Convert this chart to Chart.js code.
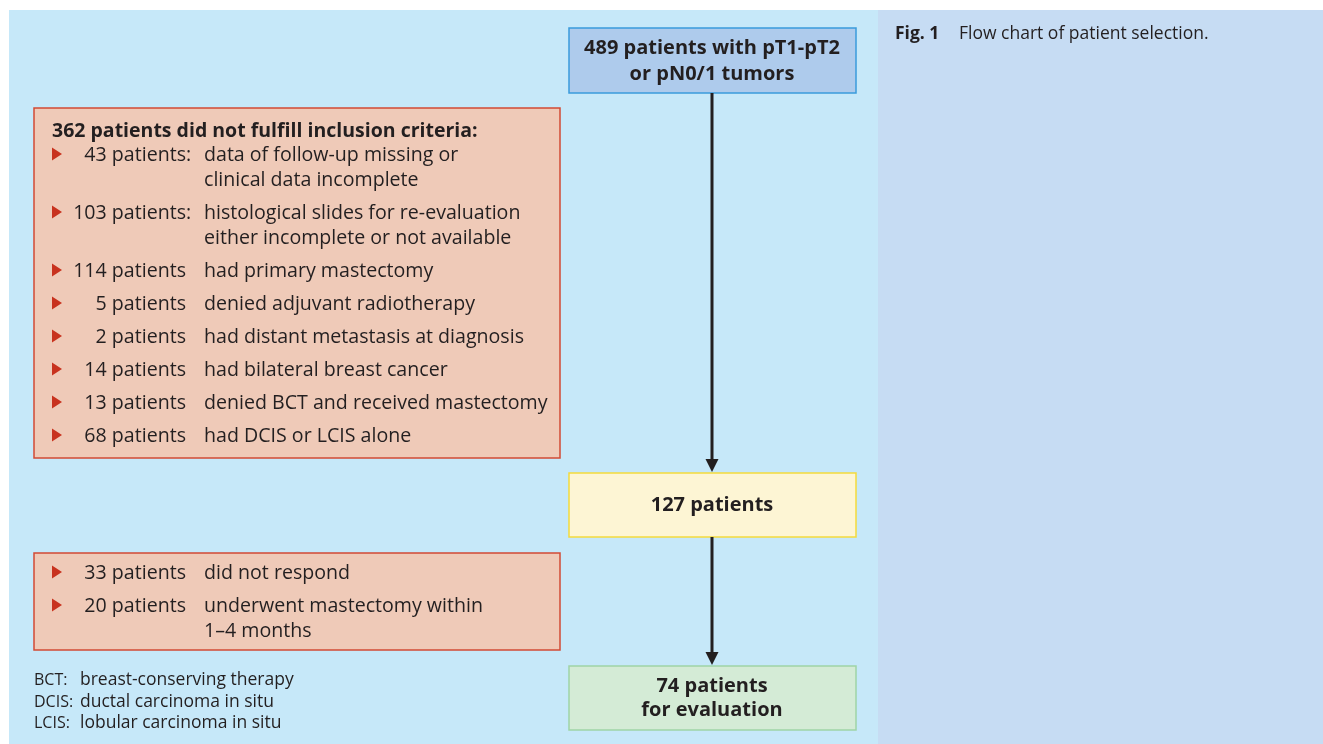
<!DOCTYPE html>
<html>
<head>
<meta charset="utf-8">
<script src="https://cdn.jsdelivr.net/npm/chart.js@4/dist/chart.umd.min.js"></script>
<style>
  body { margin: 0; background: #fff; }
  canvas { display: block; }
</style>
</head>
<body>
<canvas id="flow" width="1323" height="744"></canvas>
<script>
// patient counts
var totalStart = 489
var totalMiddle = 127
var totalFinal = 74
var excludedFirst = 362
var firstCounts = [43, 103, 114, 5, 2, 14, 13, 68]
var firstReasons = [
  ['data of follow-up missing or', 'clinical data incomplete'],
  ['histological slides for re-evaluation', 'either incomplete or not available'],
  ['had primary mastectomy'],
  ['denied adjuvant radiotherapy'],
  ['had distant metastasis at diagnosis'],
  ['had bilateral breast cancer'],
  ['denied BCT and received mastectomy'],
  ['had DCIS or LCIS alone']
]
var firstColon = [true, true, false, false, false, false, false, false]
var secondCounts = [33, 20]
var secondReasons = [
  ['did not respond'],
  ['underwent mastectomy within', '1–4 months']
]
var abbrevs = ['BCT:', 'DCIS:', 'LCIS:']
var abbrevText = ['breast-conserving therapy', 'ductal carcinoma in situ', 'lobular carcinoma in situ']
var captionLabel = 'Fig. 1'
var captionText = 'Flow chart of patient selection.'

// layout (page coordinates)
var FONT = '"Open Sans", "Noto Sans", sans-serif'
var boxes = {
  start:  {x0: 569, y0: 28,  x1: 856, y1: 93,  fill: '#aecbec', stroke: '#3a9bdc'},
  middle: {x0: 569, y0: 473, x1: 856, y1: 537, fill: '#fdf5d4', stroke: '#f3da3c'},
  final:  {x0: 569, y0: 666, x1: 856, y1: 730, fill: '#d4ebd6', stroke: '#9fd4a6'},
  excl1:  {x0: 34,  y0: 108, x1: 560, y1: 458, fill: '#efcab8', stroke: '#d24a34'},
  excl2:  {x0: 34,  y0: 553, x1: 560, y1: 650, fill: '#efcab8', stroke: '#d24a34'}
}
var arrowX = 712
var dy = 1.5 // text baseline nudge

var flowPlugin = {
  id: 'flow',
  beforeDatasetsDraw: function (chart) {
    var ctx = chart.ctx
    var sx = chart.scales.x, sy = chart.scales.y
    var X = function (v) { return sx.getPixelForValue(v) }
    var Y = function (v) { return sy.getPixelForValue(v) }

    ctx.save()
    // panels
    ctx.fillStyle = '#c6e8f9'
    ctx.fillRect(X(9), Y(10), X(878) - X(9), Y(744) - Y(10))
    ctx.fillStyle = '#c6dcf3'
    ctx.fillRect(X(878), Y(10), X(1323) - X(878), Y(744) - Y(10))

    Object.keys(boxes).forEach(function (k) {
      var b = boxes[k]
      ctx.fillStyle = b.fill
      ctx.fillRect(X(b.x0), Y(b.y0), X(b.x1) - X(b.x0), Y(b.y1) - Y(b.y0))
      ctx.strokeStyle = b.stroke
      ctx.lineWidth = 1.5
      ctx.strokeRect(X(b.x0), Y(b.y0), X(b.x1) - X(b.x0), Y(b.y1) - Y(b.y0))
    })
    ctx.restore()
  },
  afterDatasetsDraw: function (chart) {
    var ctx = chart.ctx
    var sx = chart.scales.x, sy = chart.scales.y
    var X = function (v) { return sx.getPixelForValue(v) }
    var Y = function (v) { return sy.getPixelForValue(v) }
    var T = function (s, x, y) { ctx.fillText(s, X(x), Y(y + dy)) }

    ctx.save()
    ctx.textBaseline = 'middle'
    ctx.fillStyle = '#231f20'

    // arrow heads
    ;[472, 665].forEach(function (tip) {
      ctx.beginPath()
      ctx.moveTo(X(arrowX), Y(tip))
      ctx.lineTo(X(arrowX - 6.5), Y(tip - 13))
      ctx.lineTo(X(arrowX + 6.5), Y(tip - 13))
      ctx.closePath()
      ctx.fill()
    })

    // flow boxes
    ctx.textAlign = 'center'
    ctx.font = 'bold 20px ' + FONT
    T(totalStart + ' patients with pT1-pT2', 712, 47)
    T('or pN0/1 tumors', 712, 73)
    T(totalMiddle + ' patients', 712, 504)
    T(totalFinal + ' patients', 712, 685)
    T('for evaluation', 712, 709)

    // exclusion lists
    function drawList(counts, reasons, colons, startY) {
      var y = startY
      counts.forEach(function (c, i) {
        ctx.fillStyle = '#c8321e'
        ctx.beginPath()
        ctx.moveTo(X(52), Y(y - 6.5))
        ctx.lineTo(X(62), Y(y))
        ctx.lineTo(X(52), Y(y + 6.5))
        ctx.closePath()
        ctx.fill()
        ctx.fillStyle = '#231f20'
        ctx.font = '19.6px ' + FONT
        ctx.textAlign = 'right'
        T(c + ' patients', 186, y)
        ctx.textAlign = 'left'
        if (colons[i]) T(':', 186, y)
        reasons[i].forEach(function (line, j) {
          T(line, 204, y + j * 25)
        })
        y += 33 + (reasons[i].length - 1) * 25
      })
    }
    ctx.textAlign = 'left'
    ctx.font = 'bold 19.5px ' + FONT
    T(excludedFirst + ' patients did not fulfill inclusion criteria:', 52, 130)
    drawList(firstCounts, firstReasons, firstColon, 154)
    drawList(secondCounts, secondReasons, [false, false], 572)

    // abbreviations
    ctx.textAlign = 'left'
    abbrevs.forEach(function (a, i) {
      ctx.font = '16px ' + FONT
      T(a, 34, 679 + i * 21.5)
      ctx.font = '17.5px ' + FONT
      T(abbrevText[i], 80, 679 + i * 21.5)
    })

    // caption
    ctx.font = 'bold 17.5px ' + FONT
    T(captionLabel, 895, 33)
    ctx.font = '17.5px ' + FONT
    T(captionText, 959, 33)
    ctx.restore()
  }
}

var arrowStyle = {type: 'line', borderColor: '#231f20', borderWidth: 3, pointRadius: 0, fill: false}
new Chart(document.getElementById('flow'), {
  type: 'scatter',
  data: {
    datasets: [
      Object.assign({label: 'start to middle', data: [{x: arrowX, y: 93}, {x: arrowX, y: 462}]}, arrowStyle),
      Object.assign({label: 'middle to final', data: [{x: arrowX, y: 537}, {x: arrowX, y: 655}]}, arrowStyle)
    ]
  },
  options: {
    responsive: false,
    animation: false,
    layout: {padding: 0},
    plugins: {legend: {display: false}, tooltip: {enabled: false}},
    scales: {
      x: {type: 'linear', min: 0, max: 1323, display: false},
      y: {type: 'linear', min: 0, max: 744, reverse: true, display: false}
    }
  },
  plugins: [flowPlugin]
})
</script>
</body>
</html>
